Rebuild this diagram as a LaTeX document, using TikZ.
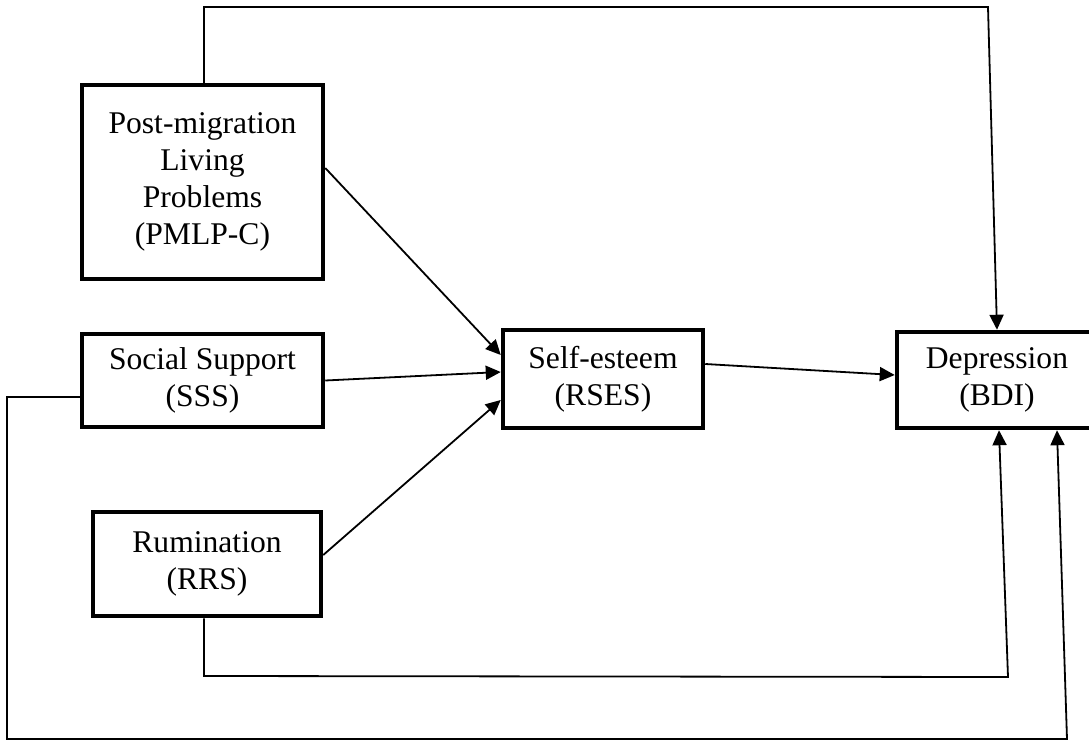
\documentclass[tikz,border=0pt]{standalone}
\usepackage{fontspec}
\setmainfont{Liberation Serif}
\usetikzlibrary{arrows.meta}
\begin{document}
\begin{tikzpicture}[x=0.5pt,y=-0.5pt,
        varbox/.style={draw,line width=2.25pt,align=center,inner sep=0pt,
            font=\fontsize{15.8}{18.5}\selectfont},
        arr/.style={-{Triangle[length=7.5pt,width=7pt]},line width=0.9pt},
        link/.style={line width=0.9pt}]
\clip (0,0) rectangle (1089,740);

\node[varbox,minimum width=120.5pt,minimum height=97pt] (pmlp) at (202.5,182)
    {Post-migration\\Living\\Problems\\(PMLP-C)};
\node[varbox,minimum width=120.5pt,minimum height=46.5pt] (sss) at (202.5,380.5)
    {Social Support\\(SSS)};
\node[varbox,minimum width=114pt,minimum height=52pt] (rrs) at (207,564)
    {Rumination\\(RRS)};
\node[varbox,minimum width=100pt,minimum height=49pt] (rses) at (603,379)
    {Self-esteem\\(RSES)};
\node[varbox,minimum width=100pt,minimum height=48pt] (bdi) at (997,380)
    {Depression\\(BDI)};

% corners of the long paths
\coordinate (top) at (988,7);
\coordinate (rrsdown) at (204,676);
\coordinate (rrsright) at (1008,677);
\coordinate (sssleft) at (7,397);
\coordinate (sssdown) at (7,739);
\coordinate (sssright) at (1067,739);

% paths to self-esteem
\draw[arr] ([yshift=7pt]pmlp.east) -- ([yshift=12pt]rses.west);
\draw[arr] (sss.east) -- ([yshift=3.5pt]rses.west);
\draw[arr] ([yshift=4.5pt]rrs.east) -- ([yshift=-10.5pt]rses.west);
\draw[arr] ([yshift=7.5pt]rses.east) -- ([yshift=2.5pt]bdi.west);

% direct paths to depression
\draw[arr] (pmlp.north -| 204,0) |- (top) -- (bdi.north);
\draw[arr] (rrsdown |- rrs.south) -- (rrsdown) -- (rrsright) -- ([xshift=1pt]bdi.south);
\draw[arr] (sss.west |- sssleft) -- (sssleft) -- (sssdown) -- (sssright)
    -- ([xshift=30pt]bdi.south);
\end{tikzpicture}
\end{document}
